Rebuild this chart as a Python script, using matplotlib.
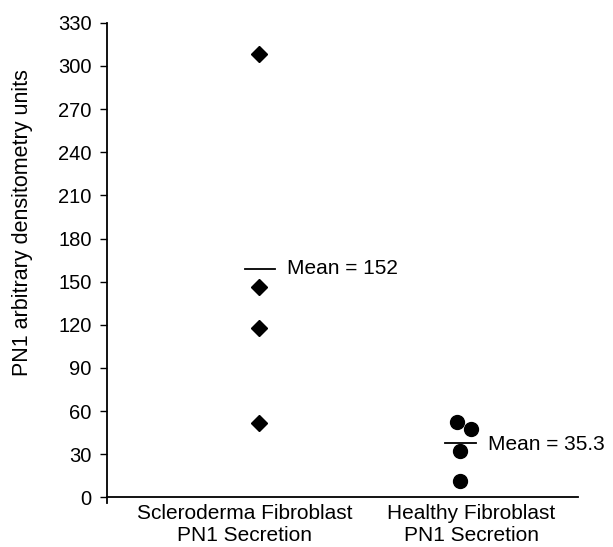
import numpy as np
import matplotlib.pyplot as plt

plt.rcParams['font.family'] = ['Liberation Sans', 'DejaVu Sans']

# values
scl_values = [308, 146, 118, 52]
healthy_values = [52.5, 47.5, 32.5, 11.5]
healthy_jitter = [-0.015, 0.055, 0.0, 0.0]
scl_mean_drawn = 159
healthy_mean_drawn = 38
mean_labels = ['Mean = 152', 'Mean = 35.3']
group_labels = ['Scleroderma Fibroblast\nPN1 Secretion',
                'Healthy Fibroblast\nPN1 Secretion']
yticks = np.arange(0, 331, 30)

fig = plt.figure(figsize=(6.13, 5.47), dpi=100)
ax = fig.add_axes([0.1746, 0.080, 0.7684, 0.8785])

ax.plot(np.zeros(len(scl_values)), scl_values, 'D', color='black', ms=8,
        linestyle='none')
ax.plot(1 + np.array(healthy_jitter), healthy_values, 'o', color='black',
        ms=10, linestyle='none')

# mean bars
ax.plot([-0.07, 0.08], [scl_mean_drawn] * 2, color='black', lw=1.3)
ax.plot([0.925, 1.08], [healthy_mean_drawn] * 2, color='black', lw=1.3)
ax.text(0.14, scl_mean_drawn, mean_labels[0], fontsize=15, va='center')
ax.text(1.14, healthy_mean_drawn - 1, mean_labels[1], fontsize=15, va='center')

ax.set_xlim(-0.756, 1.587)
ax.set_ylim(-4, 330)
ax.set_yticks(yticks)
ax.tick_params(axis='y', direction='out', length=5, width=1, labelsize=14.5,
               pad=6)
ax.set_xticks([-0.07, 1.055])
ax.set_xticklabels(group_labels, linespacing=1.05)
ax.tick_params(axis='x', length=0, pad=5, labelsize=15)

ax.spines['top'].set_visible(False)
ax.spines['right'].set_visible(False)
ax.spines['bottom'].set_position(('data', 0))
ax.spines['left'].set_linewidth(1.3)
ax.spines['bottom'].set_linewidth(1.3)
ax.set_ylabel('PN1 arbitrary densitometry units', fontsize=15.5, va='center')
ax.yaxis.set_label_coords(-0.18, 0.585)

fig.savefig('out.png', dpi=100)
